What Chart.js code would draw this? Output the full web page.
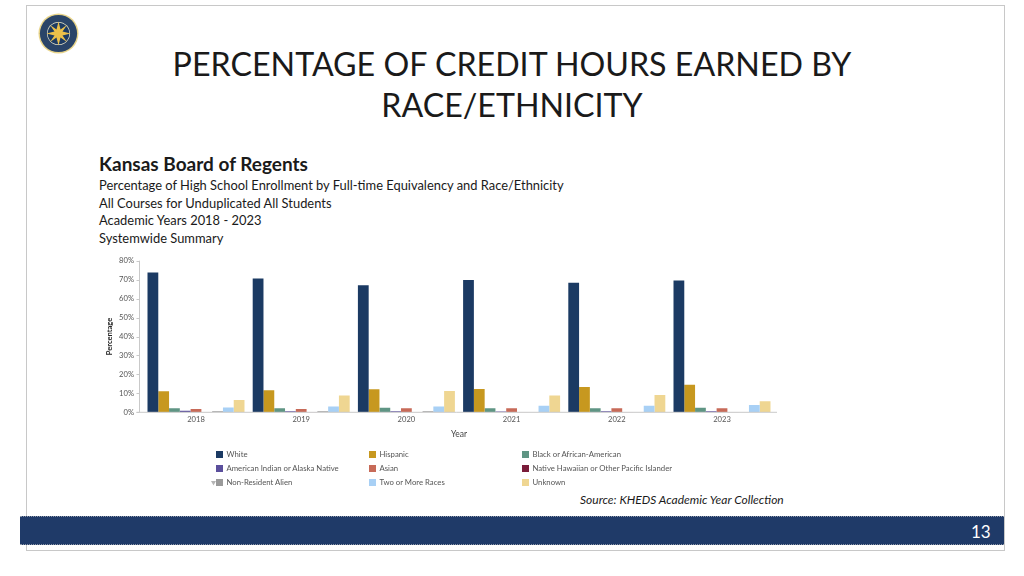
<!DOCTYPE html>
<html><head><meta charset="utf-8">
<script src="https://cdn.jsdelivr.net/npm/chart.js@4"></script>
<style>
html,body{margin:0;padding:0;background:#fff;width:1024px;height:576px;overflow:hidden}
body{position:relative;font-family:Lato,sans-serif}
#c{position:absolute;left:0;top:0}
.t{position:absolute;white-space:nowrap;color:#1a1a1a}
#frame{position:absolute;left:26px;top:5px;width:979px;height:546px;border:1px solid #c8c8c8;box-sizing:border-box}
#band{position:absolute;left:20px;top:516px;width:984px;height:29px;background:#1f3a68;border-top:1px dotted #8d97a8;border-bottom:1px dotted #8d97a8;box-sizing:border-box}
#num{position:absolute;left:971px;top:521px;font-size:17px}
.lg{position:absolute;font-size:7.75px;color:#555;line-height:10px;white-space:nowrap}
.sw{position:absolute;width:7px;height:7px}
</style></head><body>
<div id="frame"></div>
<div id="band"></div><div id="num" class="t" style="color:#fff">13</div>
<svg style="position:absolute;left:38px;top:13px" width="41" height="41" viewBox="-20.5 -20.5 41 41">
<circle r="20" fill="#e8d48a"/><circle r="18.6" fill="#2a4468"/><circle r="11.5" fill="#e9e4c8"/>
<circle r="10.8" fill="#1d3b63"/>
<polygon fill="#ecc04a" points="0,-12 2,-4 8.5,-8.5 4,-2 12,0 4,2 8.5,8.5 2,4 0,12 -2,4 -8.5,8.5 -4,2 -12,0 -4,-2 -8.5,-8.5 -2,-4"/>
</svg>
<div class="t" style="left:0;width:1024px;text-align:center;top:43px;font-size:32.2px;line-height:41px">PERCENTAGE OF CREDIT HOURS EARNED BY<br>RACE/ETHNICITY</div>
<div class="t" style="left:99px;top:152px;font-size:19px;font-weight:700;line-height:24px">Kansas Board of Regents</div>
<div class="t" style="left:99px;top:176px;font-size:12.9px;line-height:18px">Percentage of High School Enrollment by Full-time Equivalency and Race/Ethnicity</div>
<div class="t" style="left:99px;top:194px;font-size:12.9px;line-height:18px">All Courses for Unduplicated All Students</div>
<div class="t" style="left:99px;top:211px;font-size:12.9px;line-height:18px">Academic Years 2018 - 2023</div>
<div class="t" style="left:99px;top:229px;font-size:12.9px;line-height:18px">Systemwide Summary</div>
<div class="t" style="left:580px;top:492px;font-size:12px;line-height:16px;font-style:italic">Source: KHEDS Academic Year Collection</div>
<canvas id="c" width="1024" height="576" style="width:1024px;height:576px"></canvas>
<div id="legend"></div>
<svg style="position:absolute;left:210px;top:480px" width="7" height="6"><polygon points="1,1 6,1 3.5,5.5" fill="#b5b5b5"/></svg>
<script>
const years = ['2018','2019','2020','2021','2022','2023'];
const white = [73.8,70.6,67.1,69.8,68.4,69.6];
const hispanic = [11.1,11.6,12.1,12.3,13.4,14.6];
const black = [2.1,2.1,2.4,2.1,2.1,2.4];
const amIndian = [0.8,0.6,0.6,0.4,0.5,0.5];
const asian = [1.7,1.7,2.1,2.1,2.1,2.1];
const hawaiian = [0.1,0.1,0.1,0.1,0.1,0.1];
const nonResident = [0.6,0.6,0.5,0.2,0.2,0.2];
const twoOrMore = [2.5,3.0,3.0,3.5,3.5,3.8];
const unknown = [6.5,8.9,11.2,8.9,9.1,5.8];
const yTicks = [0,10,20,30,40,50,60,70,80];

const series = [
 ['White',white,'#1b3a63'],
 ['Hispanic',hispanic,'#c7981f'],
 ['Black or African-American',black,'#5f9584'],
 ['American Indian or Alaska Native',amIndian,'#5b4f9c'],
 ['Asian',asian,'#c76a58'],
 ['Native Hawaiian or Other Pacific Islander',hawaiian,'#7a1c3a'],
 ['Non-Resident Alien',nonResident,'#9a9a9a'],
 ['Two or More Races',twoOrMore,'#a8d0f5'],
 ['Unknown',unknown,'#efd692']
];
const axisPlugin = {id:'axisLines',afterDraw(ch){
  const c=ch.ctx,y=ch.scales.y,L=139.5,R=777,B=y.getPixelForValue(0);
  c.save();c.strokeStyle='#c9c9c9';c.lineWidth=1;c.beginPath();
  c.moveTo(L,y.getPixelForValue(80));c.lineTo(L,B);
  c.moveTo(L-3,B);c.lineTo(R,B);
  yTicks.forEach(v=>{const p=Math.round(y.getPixelForValue(v))+.5;c.moveTo(L-3,p);c.lineTo(L,p);});
  c.stroke();c.restore();
}};
new Chart(document.getElementById('c'),{
 type:'bar',
 data:{labels:years,datasets:series.map(s=>({label:s[0],data:s[1],backgroundColor:s[2],borderWidth:0,categoryPercentage:0.922,barPercentage:1}))},
 plugins:[axisPlugin],
 options:{responsive:false,animation:false,
  layout:{padding:{left:105.4,right:249.4,top:260.7,bottom:136.7}},
  plugins:{legend:{display:false},title:{display:false},tooltip:{enabled:false}},
  scales:{
   x:{afterFit(s){s.height=27},grid:{display:false,drawTicks:false},border:{display:false},
      ticks:{color:'#555',font:{family:'Lato',size:7.6},padding:3,maxRotation:0},
      title:{display:true,text:'Year',color:'#444',font:{family:'Lato',size:8.5},padding:{top:0,bottom:0}}},
   y:{min:0,max:80,afterFit(s){s.width=38},grid:{display:false,drawTicks:false},border:{display:false},
      afterBuildTicks(s){s.ticks=yTicks.map(v=>({value:v}))},
      ticks:{color:'#555',font:{family:'Lato',size:7.6},padding:9.4,callback:v=>v+'%'},
      title:{display:true,text:'Percentage',color:'#222',font:{family:'Lato',size:7.5,weight:'700'},padding:{top:0,bottom:0}}}
  }
 }
});
const colX=[216,369,522], rowY=[454,468,482];
const lg=document.getElementById('legend');
series.forEach((s,i)=>{
  const x=colX[i%3],y=rowY[Math.floor(i/3)];
  lg.insertAdjacentHTML('beforeend',`<div class="sw" style="left:${x}px;top:${y-3.5}px;background:${s[2]}"></div><div class="lg" style="left:${x+10.5}px;top:${y-5}px">${s[0]}</div>`);
});
</script>
</body></html>
